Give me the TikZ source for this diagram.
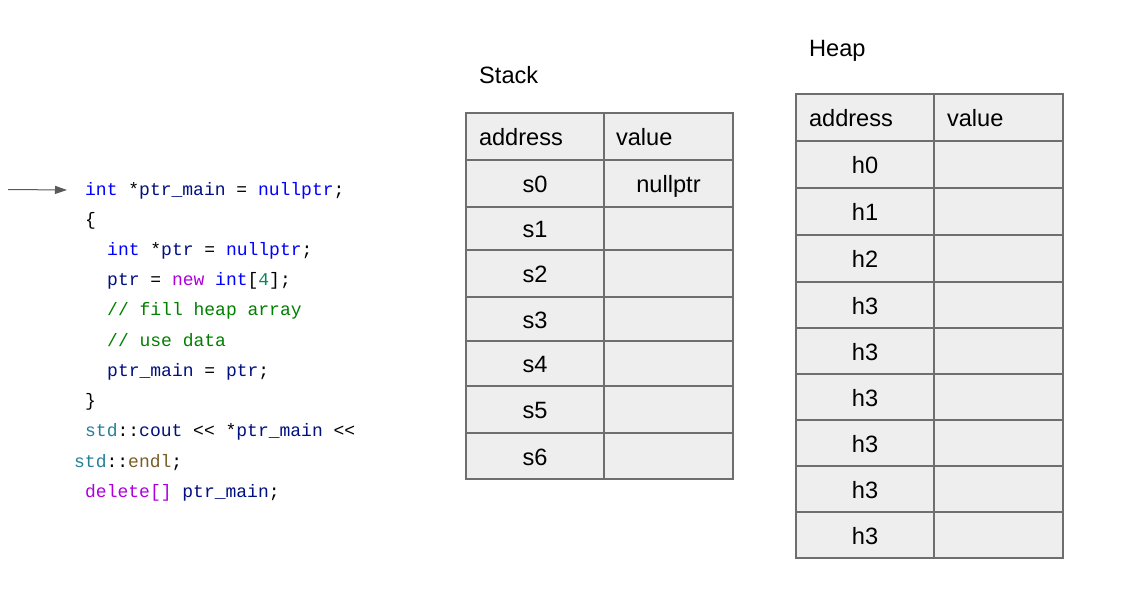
\documentclass[tikz,border=0pt]{standalone}
\usepackage{fontspec}
\setmainfont{Liberation Sans}
\setmonofont{Liberation Mono}
\usetikzlibrary{arrows.meta}
\definecolor{linegray}{HTML}{6E6E6E}
\definecolor{cellgray}{HTML}{EEEEEE}
\definecolor{arrowgray}{HTML}{595959}
\definecolor{ckw}{HTML}{0000FF}
\definecolor{cvar}{HTML}{001080}
\definecolor{cctl}{HTML}{AF00DB}
\definecolor{ccom}{HTML}{008000}
\definecolor{ctype}{HTML}{267F99}
\definecolor{cfun}{HTML}{795E26}
\definecolor{cnum}{HTML}{098658}
\newcommand{\ckw}[1]{\textcolor{ckw}{#1}}
\newcommand{\cvr}[1]{\textcolor{cvar}{#1}}
\newcommand{\cct}[1]{\textcolor{cctl}{#1}}
\newcommand{\ccm}[1]{\textcolor{ccom}{#1}}
\newcommand{\cty}[1]{\textcolor{ctype}{#1}}
\newcommand{\cfn}[1]{\textcolor{cfun}{#1}}
\newcommand{\cnm}[1]{\textcolor{cnum}{#1}}
\tikzset{
  x=1bp, y=-1bp,
  cellfont/.style={font=\fontsize{23.6bp}{28bp}\selectfont},
  cell/.style={draw=linegray, fill=cellgray, line width=1.3bp, inner sep=0pt,
    outer sep=0pt, anchor=north west, text height=18bp, text depth=0bp,
    cellfont, text=black},
  celltext/.style={inner sep=0pt, outer sep=0pt, text height=19bp, text depth=0bp,
    cellfont, anchor=west},
  title/.style={inner sep=0pt, anchor=base west, cellfont},
  code/.style={inner sep=0pt, anchor=base west,
    font=\fontsize{18bp}{30bp}\ttfamily, text=black},
  ptr/.style={draw=arrowgray, line width=1bp,
    -{Triangle[length=12bp,width=8bp]}}
}
\begin{document}
\begin{tikzpicture}
\useasboundingbox (0,0) rectangle (1140,601);
\fill[white] (0,0) rectangle (1140,601);

% code
\node[code] (c1) at (85,196) {\ckw{int} *\cvr{ptr\_main} = \ckw{nullptr};};
\node[code] (c2) at (85,226) {\{};
\node[code] (c3) at (107,256) {\ckw{int} *\cvr{ptr} = \ckw{nullptr};};
\node[code] (c4) at (107,286) {\cvr{ptr} = \cct{new} \ckw{int}[\cnm{4}];};
\node[code] (c5) at (107,316) {\ccm{// fill heap array}};
\node[code] (c6) at (107,346) {\ccm{// use data}};
\node[code] (c7) at (107,376) {\cvr{ptr\_main} = \cvr{ptr};};
\node[code] (c8) at (85,406) {\}};
\node[code] (c9) at (85,436) {\cty{std}::\cvr{cout} << *\cvr{ptr\_main} <<};
\node[code] (c10) at (74,467) {\cty{std}::\cfn{endl};};
\node[code] (c11) at (85,497) {\cct{delete[]} \cvr{ptr\_main};};

% arrow
\coordinate (a0) at (8,189.5);
\coordinate (a1) at (67,190);
\draw[ptr] (a0) -- (a1);

% titles
\node[title] (tstack) at (479,83.5) {Stack};
\node[title] (theap) at (809,56.5) {Heap};

% stack table
\foreach \name/\ya/\yb/\txt in {sh/113/160/{}, s0/160/207/s0, s1/207/250/s1,
    s2/250/297/s2, s3/297/341/s3, s4/341/386/s4, s5/386/433/s5, s6/433/479/s6}{
  \pgfmathsetmacro{\hh}{\yb-\ya}
  \node[cell, minimum width=138bp, minimum height=\hh bp] (\name a) at (466,\ya) {\txt};
  \node[cell, minimum width=129bp, minimum height=\hh bp] (\name v) at (604,\ya) {};
}
\node[celltext] (sha-t) at ([xshift=13bp]sha.west) {address};
\node[celltext] (shv-t) at ([xshift=12bp]shv.west) {value};
\node[celltext, anchor=center, text height=18bp] (s0v-t) at (s0v.center) {nullptr};

% heap table
\foreach \name/\ya/\yb/\txt in {hh/94/141/{}, h0/141/188/h0, h1/188/235/h1,
    h2/235/282/h2, h3/282/328/h3, h4/328/374/h3, h5/374/420/h3, h6/420/466/h3,
    h7/466/512/h3, h8/512/558/h3}{
  \pgfmathsetmacro{\hh}{\yb-\ya}
  \node[cell, minimum width=138bp, minimum height=\hh bp] (\name a) at (796,\ya) {\txt};
  \node[cell, minimum width=129bp, minimum height=\hh bp] (\name v) at (934,\ya) {};
}
\node[celltext] (hha-t) at ([xshift=13bp]hha.west) {address};
\node[celltext] (hhv-t) at ([xshift=13bp]hhv.west) {value};
\end{tikzpicture}
\end{document}
